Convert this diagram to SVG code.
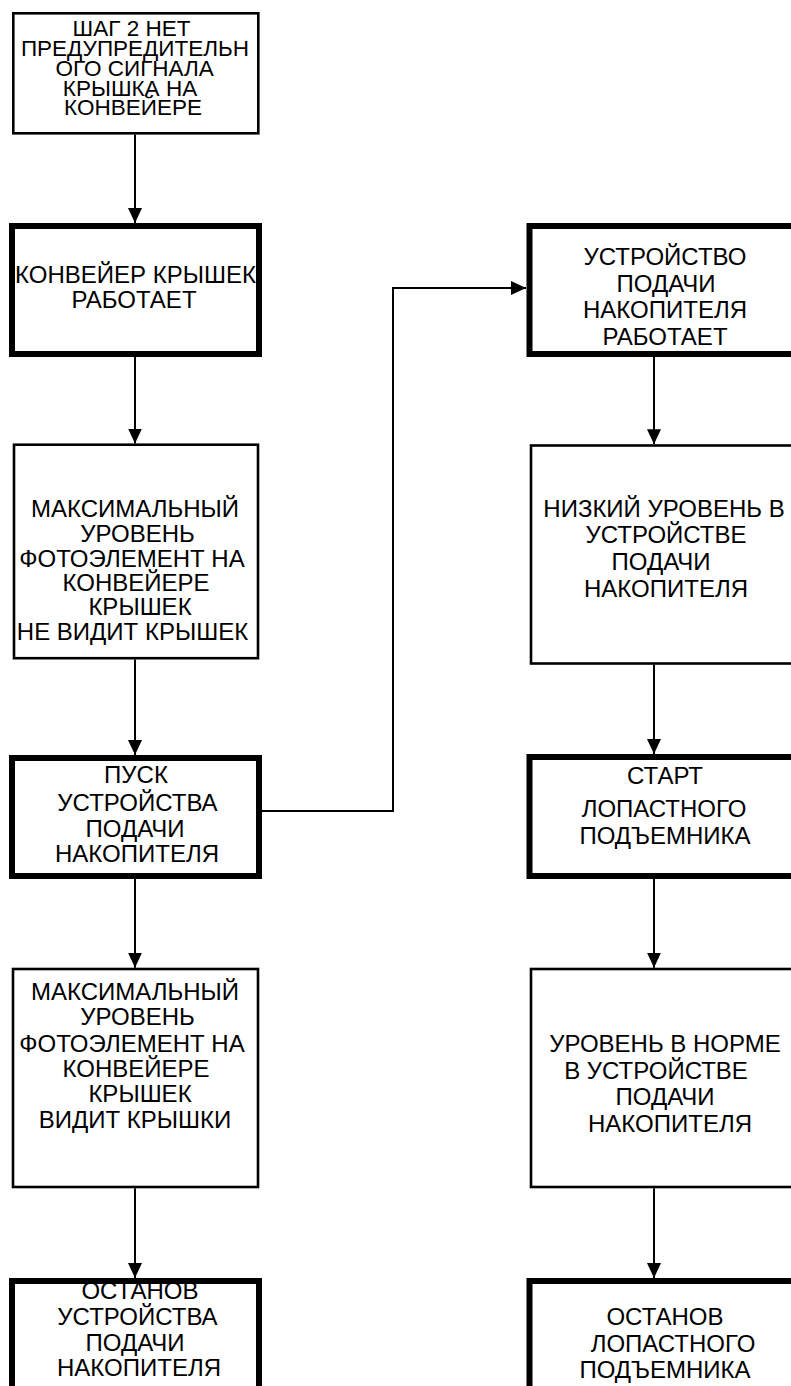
<svg xmlns="http://www.w3.org/2000/svg" width="791" height="1386" viewBox="0 0 791 1386">
<style>
.thin{fill:#fff;stroke:#000;stroke-width:2.6}
.thick{fill:#fff;stroke:#000;stroke-width:6}
.t{font-family:"Liberation Sans",Arial,sans-serif;font-size:24px;text-anchor:middle;fill:#000}
.s{font-size:22.5px}
.c{fill:none;stroke:#000;stroke-width:2}
</style>
<defs>
<marker id="ah" markerUnits="userSpaceOnUse" markerWidth="15" markerHeight="14" refX="15" refY="7" orient="auto">
<path d="M0,0 L15,7 L0,14 z" fill="#000"/>
</marker>
</defs>
<rect width="791" height="1386" fill="#fff"/>
<g id="connectors">
<path class="c" d="M135,134.5 L135,223" marker-end="url(#ah)"/>
<path class="c" d="M135,357 L135,443.5" marker-end="url(#ah)"/>
<path class="c" d="M135,659.5 L135,755" marker-end="url(#ah)"/>
<path class="c" d="M135,879 L135,967.7" marker-end="url(#ah)"/>
<path class="c" d="M135,1188.3 L135,1278" marker-end="url(#ah)"/>
<path class="c" d="M262,811 L393,811 L393,288 L526,288" marker-end="url(#ah)"/>
<path class="c" d="M654,357 L654,444.2" marker-end="url(#ah)"/>
<path class="c" d="M654,664.8 L654,754" marker-end="url(#ah)"/>
<path class="c" d="M654,879 L654,967.7" marker-end="url(#ah)"/>
<path class="c" d="M654,1188.3 L654,1278" marker-end="url(#ah)"/>
</g>
<g id="b1">
<rect class="thin" x="13.3" y="13.3" width="245" height="120"/>
<text class="t s" x="131.5" y="36">ШАГ 2 НЕТ</text>
<text class="t s" x="135" y="56">ПРЕДУПРЕДИТЕЛЬН</text>
<text class="t s" x="134.7" y="76">ОГО СИГНАЛА</text>
<text class="t s" x="130" y="96">КРЫШКА НА</text>
<text class="t s" x="133" y="115">КОНВЕЙЕРЕ</text>
</g>
<g id="b2">
<rect class="thick" x="12" y="226" width="247" height="128"/>
<text class="t" x="135.5" y="283">КОНВЕЙЕР КРЫШЕК</text>
<text class="t" x="134" y="308">РАБОТАЕТ</text>
</g>
<g id="b3">
<rect class="thin" x="14" y="444.7" width="244" height="213.5"/>
<text class="t" x="135" y="517">МАКСИМАЛЬНЫЙ</text>
<text class="t" x="137.5" y="542">УРОВЕНЬ</text>
<text class="t" x="132" y="567">ФОТОЭЛЕМЕНТ НА</text>
<text class="t" x="136" y="591">КОНВЕЙЕРЕ</text>
<text class="t" x="140" y="615">КРЫШЕК</text>
<text class="t" x="132.5" y="640">НЕ ВИДИТ КРЫШЕК</text>
</g>
<g id="b4">
<rect class="thick" x="12" y="758" width="247" height="118"/>
<text class="t" x="136" y="783">ПУСК</text>
<text class="t" x="137.5" y="810.5">УСТРОЙСТВА</text>
<text class="t" x="135" y="836.5">ПОДАЧИ</text>
<text class="t" x="137" y="861.5">НАКОПИТЕЛЯ</text>
</g>
<g id="b5">
<rect class="thin" x="13" y="969" width="245" height="218"/>
<text class="t" x="135" y="1000">МАКСИМАЛЬНЫЙ</text>
<text class="t" x="137.5" y="1024.5">УРОВЕНЬ</text>
<text class="t" x="132" y="1052">ФОТОЭЛЕМЕНТ НА</text>
<text class="t" x="136" y="1077">КОНВЕЙЕРЕ</text>
<text class="t" x="140" y="1102">КРЫШЕК</text>
<text class="t" x="135" y="1128">ВИДИТ КРЫШКИ</text>
</g>
<g id="b6">
<rect class="thick" x="12" y="1281" width="247" height="200"/>
<text class="t" x="140" y="1299.3">ОСТАНОВ</text>
<text class="t" x="137.5" y="1325">УСТРОЙСТВА</text>
<text class="t" x="135" y="1350.7">ПОДАЧИ</text>
<text class="t" x="139" y="1376">НАКОПИТЕЛЯ</text>
</g>
<g id="r1">
<rect class="thick" x="529.5" y="226" width="300" height="128"/>
<text class="t" x="665" y="265">УСТРОЙСТВО</text>
<text class="t" x="666" y="291.7">ПОДАЧИ</text>
<text class="t" x="665" y="318">НАКОПИТЕЛЯ</text>
<text class="t" x="665" y="345">РАБОТАЕТ</text>
</g>
<g id="r2">
<rect class="thin" x="531" y="445.5" width="300" height="218"/>
<text class="t" x="664" y="517">НИЗКИЙ УРОВЕНЬ В</text>
<text class="t" x="666" y="543.3">УСТРОЙСТВЕ</text>
<text class="t" x="661" y="570">ПОДАЧИ</text>
<text class="t" x="666" y="596.7">НАКОПИТЕЛЯ</text>
</g>
<g id="r3">
<rect class="thick" x="529.5" y="757" width="300" height="119"/>
<text class="t" x="665" y="784">СТАРТ</text>
<text class="t" x="664" y="816.7">ЛОПАСТНОГО</text>
<text class="t" x="665" y="844">ПОДЪЕМНИКА</text>
</g>
<g id="r4">
<rect class="thin" x="531" y="969" width="300" height="218"/>
<text class="t" x="665" y="1052">УРОВЕНЬ В НОРМЕ</text>
<text class="t" x="656" y="1078.5">В УСТРОЙСТВЕ</text>
<text class="t" x="665" y="1105">ПОДАЧИ</text>
<text class="t" x="670" y="1131.5">НАКОПИТЕЛЯ</text>
</g>
<g id="r5">
<rect class="thick" x="529.5" y="1281" width="300" height="200"/>
<text class="t" x="665" y="1325">ОСТАНОВ</text>
<text class="t" x="673" y="1351.7">ЛОПАСТНОГО</text>
<text class="t" x="665" y="1378.3">ПОДЪЕМНИКА</text>
</g>
</svg>
